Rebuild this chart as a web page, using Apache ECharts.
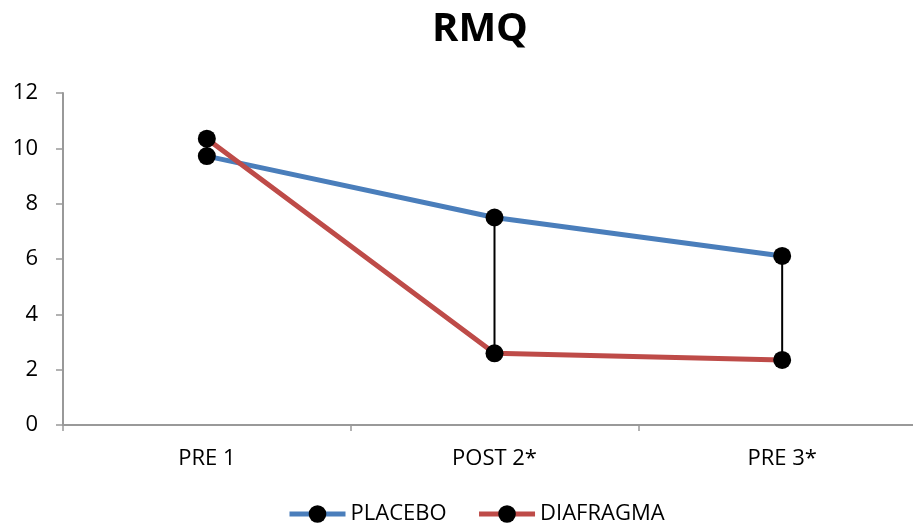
<!DOCTYPE html>
<html>
<head>
<meta charset="utf-8">
<style>
  html, body { margin: 0; padding: 0; background: #ffffff; }
  #chart { width: 913px; height: 526px; }
</style>
<script src="https://cdn.jsdelivr.net/npm/echarts@6/dist/echarts.min.js"></script>
</head>
<body>
<div id="chart"></div>
<script>
// RMQ scores per session
const categories = ['PRE 1', 'POST 2*', 'PRE 3*'];
const placebo = [9.72, 7.5, 6.11];
const diafragma = [10.35, 2.59, 2.35];
const yTicks = [0, 2, 4, 6, 8, 10, 12];

const FONT = "'Open Sans', 'Noto Sans', sans-serif";

// high-low connectors between the two series at each session
const hiLow = categories.map((c, i) => [i, Math.min(placebo[i], diafragma[i]), Math.max(placebo[i], diafragma[i])]);

const chart = echarts.init(document.getElementById('chart'), null, { renderer: 'canvas' });

chart.setOption({
  backgroundColor: '#ffffff',
  animation: false,
  title: {
    text: 'RMQ',
    left: 427,
    top: 5,
    textStyle: { fontFamily: FONT, fontSize: 40, fontWeight: 'bold', color: '#000' }
  },
  legend: {
    bottom: -4,
    left: 282,
    itemGap: 30,
    itemWidth: 56,
    itemHeight: 22,
    data: ['PLACEBO', 'DIAFRAGMA'],
    lineStyle: { width: 5 },
    textStyle: { fontFamily: FONT, fontSize: 22, color: '#000', padding: [0, 0, 0, 0] }
  },
  grid: { left: 63, top: 93, width: 863, height: 332, containLabel: false, outerBoundsMode: 'none' },
  xAxis: {
    type: 'category',
    data: categories,
    boundaryGap: true,
    axisLine: { lineStyle: { color: '#999', width: 2 } },
    axisTick: { show: true, length: 6, lineStyle: { color: '#999', width: 1.5 } },
    axisLabel: { fontFamily: FONT, fontSize: 22, color: '#000', margin: 23 },
    splitLine: { show: false }
  },
  yAxis: {
    type: 'value',
    min: yTicks[0],
    max: yTicks[yTicks.length - 1],
    interval: 2,
    axisLine: { show: true, lineStyle: { color: '#999', width: 2 } },
    axisTick: { show: true, length: 7, lineStyle: { color: '#999', width: 1.5 } },
    axisLabel: { fontFamily: FONT, fontSize: 22, color: '#000', margin: 25 },
    splitLine: { show: false }
  },
  series: [
    {
      type: 'custom',
      name: 'hiLow',
      data: hiLow,
      z: 1,
      renderItem: function (params, api) {
        const p1 = api.coord([api.value(0), api.value(1)]);
        const p2 = api.coord([api.value(0), api.value(2)]);
        return {
          type: 'line',
          shape: { x1: p1[0], y1: p1[1], x2: p2[0], y2: p2[1] },
          style: { stroke: '#000', lineWidth: 2 }
        };
      },
      silent: true
    },
    {
      name: 'PLACEBO',
      type: 'line',
      data: placebo,
      z: 3,
      symbol: 'circle',
      symbolSize: 18,
      lineStyle: { color: '#4A7EBB', width: 5 },
      itemStyle: { color: '#000', borderWidth: 0 }
    },
    {
      name: 'DIAFRAGMA',
      type: 'line',
      data: diafragma,
      z: 3,
      symbol: 'circle',
      symbolSize: 18,
      lineStyle: { color: '#BE4B48', width: 5 },
      itemStyle: { color: '#000', borderWidth: 0 }
    }
  ]
});
</script>
</body>
</html>
